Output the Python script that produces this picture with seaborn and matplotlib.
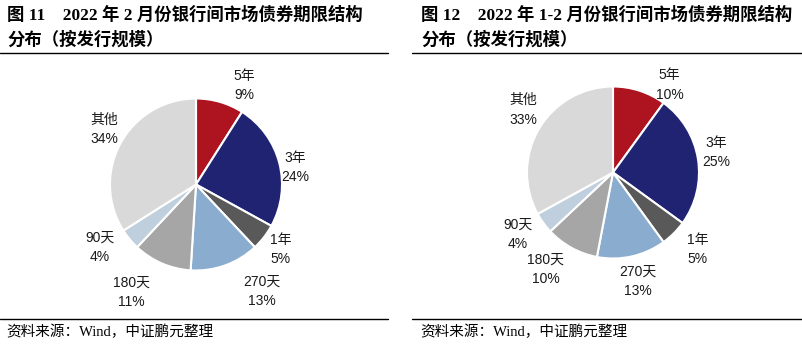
import numpy as np
import matplotlib
matplotlib.use("Agg")
import matplotlib.pyplot as plt
from matplotlib.lines import Line2D
import seaborn as sns

sns.set_theme(style="white")
plt.rcParams['font.family'] = ['Liberation Sans', 'Noto Sans CJK SC', 'DejaVu Sans']

# ---- data ----
categories = ["5年", "3年", "1年", "270天", "180天", "90天", "其他"]
feb_values = [9, 24, 5, 13, 11, 4, 34]
janfeb_values = [10, 25, 5, 13, 10, 4, 33]
title_left = ["图 11    2022 年 2 月份银行间市场债券期限结构", "分布（按发行规模）"]
title_right = ["图 12    2022 年 1-2 月份银行间市场债券期限结构", "分布（按发行规模）"]
source_text = "资料来源：Wind，中证鹏元整理"

# ---- style ----
colors = ["#AE1320", "#1F2372", "#595959", "#8AADCF", "#A6A6A6", "#BFCFDD", "#D9D9D9"]
left_angle_off = [-9.9, -4.8, 0.3, 11.6, -7.6, -6.4, -2.2]
left_dist = [1.28, 1.17, 1.24, 1.46, 1.46, 1.34, 1.24]
right_angle_off = [-15, 1.9, 2.8, 0.2, -6.2, -3.1, -4.4]
right_dist = [1.21, 1.22, 1.33, 1.30, 1.37, 1.32, 1.27]

W, H = 803, 348
fig = plt.figure(figsize=(W / 100, H / 100), dpi=100)
R = 86


def make_pie(cx, cy, values, offs, dists):
    ax = fig.add_axes([(cx - R) / W, (H - cy - R) / H, 2 * R / W, 2 * R / H])
    wedges, _ = ax.pie(values, colors=colors, startangle=90, counterclock=False,
                       radius=1, wedgeprops=dict(edgecolor="white", linewidth=1.5))
    ax.set_xlim(-1, 1)
    ax.set_ylim(-1, 1)
    ax.set_aspect("equal")
    ax.axis("off")
    for w, cat, v, o, d in zip(wedges, categories, values, offs, dists):
        th = np.deg2rad((w.theta1 + w.theta2) / 2 + o)
        ax.text(d * np.cos(th), d * np.sin(th), f"{cat}\n{v}%", ha="center", va="center",
                fontsize=10, color="#1a1a1a", linespacing=1.5, clip_on=False,
                family=['Liberation Sans', 'Noto Sans CJK SC'])


make_pie(196, 184.5, feb_values, left_angle_off, left_dist)
make_pie(613, 172.5, janfeb_values, right_angle_off, right_dist)

tfam = ['Liberation Serif', 'Noto Sans CJK SC']
for x0, lines in [(7, title_left), (421, title_right)]:
    fig.text(x0 / W, 1 - 15 / H, lines[0], ha="left", va="center", fontsize=12.5,
             fontweight="bold", family=tfam, color="black")
    fig.text(x0 / W, 1 - 40 / H, lines[1], ha="left", va="center", fontsize=12.5,
             fontweight="bold", family=tfam, color="black")
    fig.text((x0 - 1) / W, 1 - 332 / H, source_text, ha="left", va="center", fontsize=10.5,
             family=tfam, color="black")

for xa, xb in [(0, 388), (412, 803)]:
    for y in (53, 319):
        fig.add_artist(Line2D([xa / W, xb / W], [1 - y / H, 1 - y / H], color="black",
                              linewidth=1.0, transform=fig.transFigure))

fig.savefig("out.png", dpi=100, facecolor="white")
